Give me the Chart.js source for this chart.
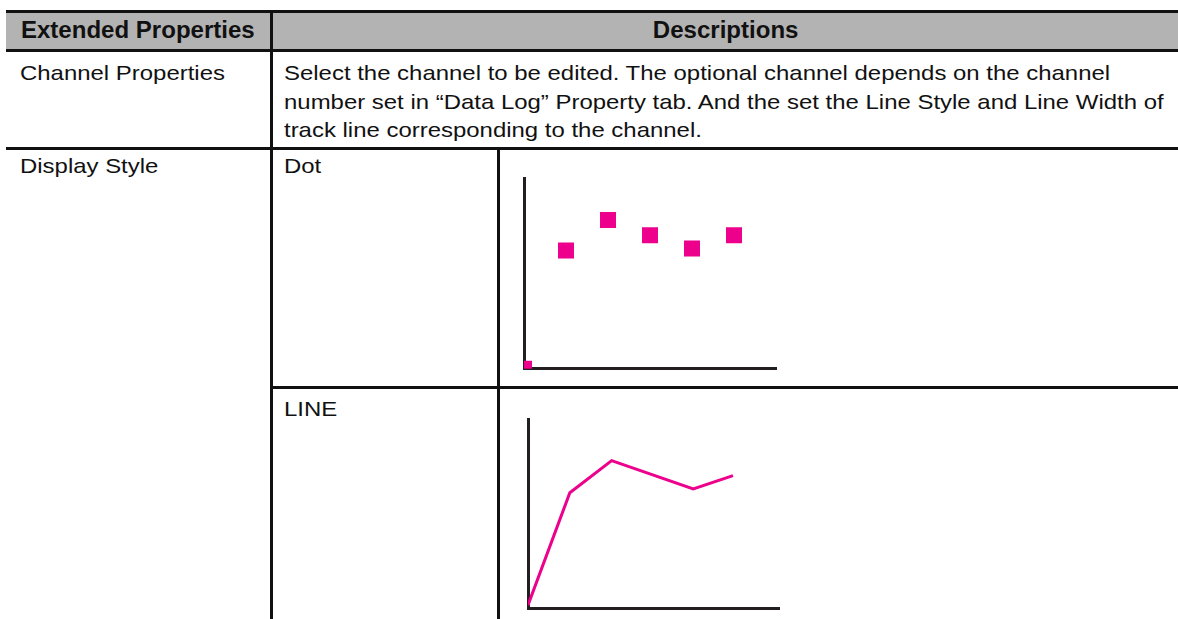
<!DOCTYPE html>
<html>
<head>
<meta charset="utf-8">
<script src="https://cdn.jsdelivr.net/npm/chart.js@4/dist/chart.umd.min.js"></script>
<style>
  html, body { margin: 0; padding: 0; background: #fff; }
  body { width: 1178px; height: 619px; position: relative; overflow: hidden;
         font-family: "Liberation Sans", Arial, Helvetica, sans-serif; color: #111; }
  .hl { position: absolute; height: 3px; background: #111; }
  .vl { position: absolute; width: 3px; background: #111; }
  .t { position: absolute; font-size: 21px; line-height: 28.5px; white-space: nowrap;
       transform: scaleX(1.14); transform-origin: 0 0; }
  .h { position: absolute; top: 12px; height: 37px; text-align: center; }
  .h span { display: inline-block; font-size: 23px; font-weight: bold; line-height: 37px;
            transform: scaleX(1.045); }
  canvas { position: absolute; }
</style>
</head>
<body>
  <div style="position:absolute;left:6px;top:12px;width:1172px;height:38px;background:#b3b3b3"></div>
  <div class="hl" style="left:6px;top:10px;width:1172px"></div>
  <div class="hl" style="left:6px;top:49px;width:1172px"></div>
  <div class="hl" style="left:6px;top:147px;width:1172px"></div>
  <div class="hl" style="left:271px;top:386px;width:907px"></div>
  <div class="vl" style="left:270px;top:10px;height:609px"></div>
  <div class="vl" style="left:497px;top:147px;height:472px"></div>

  <div class="h" style="left:6px;width:264px"><span>Extended Properties</span></div>
  <div class="h" style="left:273px;width:905px"><span>Descriptions</span></div>

  <div class="t" style="left:20px;top:59px">Channel Properties</div>
  <div class="t" style="left:284px;top:59px">Select the channel to be edited. The optional channel depends on the channel<br>number set in “Data Log” Property tab. And the set the Line Style and Line Width of<br>track line corresponding to the channel.</div>
  <div class="t" style="left:20px;top:152px">Display Style</div>
  <div class="t" style="left:284px;top:152px">Dot</div>
  <div class="t" style="left:284px;top:395px">LINE</div>

  <canvas id="dotChart" width="300" height="220" style="left:500px;top:160px;width:300px;height:220px"></canvas>
  <canvas id="lineChart" width="300" height="224" style="left:500px;top:395px;width:300px;height:224px"></canvas>

<script>
const pink = '#ec008c';
const axisColor = '#231f20';

// Dot display style sample
const dotX = [0, 1, 2, 3, 4, 5];
const dotY = [0, 6.2, 7.8, 7.0, 6.3, 7.0];

// Line display style sample
const lineX = [0, 1, 2, 3.95, 4.9];
const lineY = [0.15, 6.1, 7.8, 6.3, 7.0];

const xMax = 6;
const yMax = 10;

const toPoints = (xs, ys) => xs.map((x, i) => ({ x: x, y: ys[i] }));

const axis = (max) => ({
  type: 'linear', min: 0, max: max, z: 1,
  ticks: { display: false },
  grid: { display: false, drawTicks: false },
  border: { display: true, color: axisColor, width: 3 }
});

const baseOptions = (padding) => ({
  responsive: false,
  animation: false,
  events: [],
  layout: { padding: padding },
  plugins: { legend: { display: false }, tooltip: { enabled: false } },
  scales: { x: axis(xMax), y: axis(yMax) }
});

new Chart(document.getElementById('dotChart'), {
  type: 'scatter',
  data: {
    datasets: [{
      data: toPoints(dotX, dotY),
      pointStyle: 'rect',
      pointRadius: 11.3,
      pointBorderWidth: 0,
      backgroundColor: pink,
      borderColor: pink,
      clip: 0
    }]
  },
  options: baseOptions({ left: 24, top: 18, right: 24, bottom: 11 })
});

new Chart(document.getElementById('lineChart'), {
  type: 'scatter',
  data: {
    datasets: [{
      data: toPoints(lineX, lineY),
      showLine: true,
      pointRadius: 0,
      borderColor: pink,
      borderWidth: 3,
      tension: 0,
      clip: 0
    }]
  },
  options: baseOptions({ left: 28, top: 24, right: 21, bottom: 11 })
});
</script>
</body>
</html>
